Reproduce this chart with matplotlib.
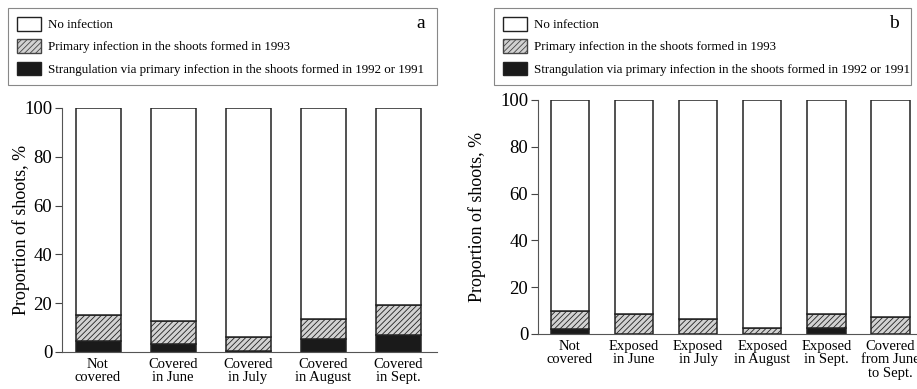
import numpy as np
import matplotlib
matplotlib.use("Agg")
import matplotlib.pyplot as plt
from matplotlib.patches import Patch

plt.rcParams['font.family'] = ['Liberation Serif', 'DejaVu Serif']
plt.rcParams['hatch.linewidth'] = 0.6
plt.rcParams['hatch.color'] = '#555555'

# panel a
cats_a = ['Not\ncovered', 'Covered\nin June', 'Covered\nin July', 'Covered\nin August', 'Covered\nin Sept.']
strang_a = [4.6, 3.4, 0.3, 5.5, 6.8]     # black
primary_a = [10.6, 9.3, 6.0, 8.2, 12.5]  # hatched
# panel b
cats_b = ['Not\ncovered', 'Exposed\nin June', 'Exposed\nin July', 'Exposed\nin August', 'Exposed\nin Sept.',
          'Covered\nfrom June\nto Sept.']
strang_b = [2.3, 0.0, 0.0, 0.0, 2.6, 0.0]
primary_b = [7.4, 8.4, 6.2, 2.5, 6.1, 7.4]

labels = ['No infection', 'Primary infection in the shoots formed in 1993',
          'Strangulation via primary infection in the shoots formed in 1992 or 1991']

W, H = 917, 389
fig = plt.figure(figsize=(W / 100, H / 100), dpi=100)

def px_axes(x0, x1, ytop, ybot):
    return fig.add_axes([x0 / W, 1 - ybot / H, (x1 - x0) / W, (ybot - ytop) / H])

hatch_kw = dict(facecolor='#d2d2d2', hatch='//////', edgecolor='#222222', linewidth=1.1)

def draw(ax, cats, strang, primary, xlim):
    x = np.arange(len(cats))
    strang = np.array(strang)
    primary = np.array(primary)
    rest = 100 - strang - primary
    ax.bar(x, strang, width=0.6, color='#1a1a1a', edgecolor='#222222', linewidth=1.1)
    ax.bar(x, primary, bottom=strang, width=0.6, **hatch_kw)
    ax.bar(x, rest, bottom=strang + primary, width=0.6, color='white',
           edgecolor='#222222', linewidth=1.1)
    ax.set_xlim(*xlim)
    ax.set_ylim(0, 100)
    ax.set_yticks([0, 20, 40, 60, 80, 100])
    ax.set_xticks(x)
    ax.set_xticklabels(cats, fontsize=10.5, linespacing=1.05)
    ax.tick_params(axis='x', length=0, pad=4)
    ax.tick_params(axis='y', labelsize=13.5, length=5, width=0.8, color='#444444', pad=2)
    for s in ['top', 'right']:
        ax.spines[s].set_visible(False)
    ax.spines['left'].set_color('#555555')
    ax.spines['bottom'].set_color('#555555')
    ax.set_ylabel('Proportion of shoots, %', fontsize=13)

ax_a = px_axes(62, 437, 108, 352)
draw(ax_a, cats_a, strang_a, primary_a, (-0.48, 4.52))
ax_a.yaxis.set_label_coords(-0.085, 0.5)

# right panel runs past the image edge, as in the original scan
ax_b = px_axes(538, 917 + 40, 100, 334)
draw(ax_b, cats_b, strang_b, primary_b, (-0.5, 6.04))
ax_b.yaxis.set_label_coords(-0.125, 0.5)

handles = [Patch(facecolor='white', edgecolor='#222222', linewidth=1.0),
           Patch(facecolor='#d2d2d2', hatch='//////', edgecolor='#444444', linewidth=1.0),
           Patch(facecolor='#1a1a1a', edgecolor='#222222', linewidth=1.0)]

def legend_box(x0, x1, ytop, ybot, letter):
    bb = (x0 / W, 1 - ybot / H, (x1 - x0) / W, (ybot - ytop) / H)
    leg = fig.legend(handles, labels, loc='upper left', bbox_to_anchor=bb, mode='expand',
                     fontsize=9.4, frameon=True, fancybox=False, edgecolor='#888888',
                     framealpha=1, handlelength=1.85, handleheight=1.2, handletextpad=0.5,
                     labelspacing=0.62, borderpad=0.7, borderaxespad=0)
    leg.get_frame().set_linewidth(0.8)
    fig.text((x1 - 12) / W, 1 - (ytop + 16) / H, letter, fontsize=14, ha='right',
             va='center', color='black', zorder=10)

legend_box(8, 437, 8, 83, 'a')
legend_box(494, 911, 8, 85, 'b')

fig.savefig('out.png', dpi=100)
